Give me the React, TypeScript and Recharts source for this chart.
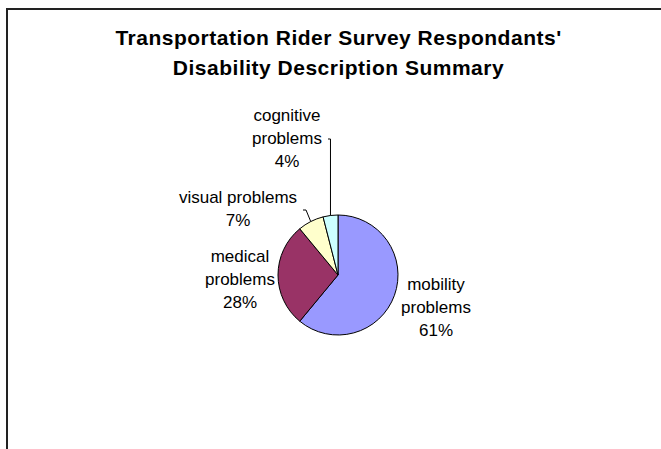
import { PieChart, Pie, Cell } from 'recharts';

const categories = ['mobility problems', 'medical problems', 'visual problems', 'cognitive problems'];
const shares = [61, 28, 7, 4];
const titleLines = ["Transportation Rider Survey Respondants'", 'Disability Description Summary'];

const COLORS = ['#9999FF', '#993366', '#FFFFCC', '#CCFFFF'];
const FONT = '"Liberation Sans", Arial, sans-serif';

// where Excel put each data label, relative to the pie centre
const LABEL_LAYOUT = [
  { dx: 98, dy: 15, wrap: true, leader: null },
  { dx: -98, dy: -13, wrap: true, leader: null },
  { dx: -100, dy: -72, wrap: false, leader: { dx: -32, dy: -65, endDx: -35 } },
  { dx: -51, dy: -154, wrap: true, leader: { dx: null, dy: -136, endDx: -10 } },
];

const data = categories.map((name, i) => ({ name, value: shares[i] }));

const RADIAN = Math.PI / 180;

function renderLabel(props: any) {
  const { cx, cy, midAngle, outerRadius, percent, name, index } = props;
  const layout = LABEL_LAYOUT[index];
  const pct = `${Math.round(percent * 100)}%`;
  const words = String(name).split(' ');
  const lines = layout.wrap ? [...words, pct] : [name, pct];
  const x = cx + layout.dx;
  const y = cy + layout.dy;

  let leader = null;
  if (layout.leader) {
    const ex = cx + outerRadius * Math.cos(-midAngle * RADIAN);
    const ey = cy + outerRadius * Math.sin(-midAngle * RADIAN);
    const bx = layout.leader.dx === null ? ex : cx + layout.leader.dx;
    const by = cy + layout.leader.dy;
    const tx = cx + layout.leader.endDx;
    leader = (
      <polyline
        points={`${ex},${ey} ${bx},${by} ${tx},${by}`}
        fill="none"
        stroke="#000"
        strokeWidth={1}
      />
    );
  }

  return (
    <g>
      {leader}
      <text x={x} y={y} textAnchor="middle" fontFamily={FONT} fontSize={17} fill="#000">
        {lines.map((l, i) => (
          <tspan key={i} x={x} dy={i === 0 ? 0 : 23}>
            {l}
          </tspan>
        ))}
      </text>
    </g>
  );
}

export default function App() {
  return (
    <div style={{ position: 'absolute', left: 0, top: 0, width: 661, height: 449, background: '#fff' }}>
      <div
        style={{
          position: 'absolute',
          left: 6,
          top: 8,
          width: 700,
          height: 500,
          borderTop: '2px solid #222',
          borderLeft: '2px solid #222',
        }}
      />
      <PieChart
        width={661}
        height={449}
        margin={{ top: 0, right: 0, bottom: 0, left: 0 }}
        style={{ position: 'absolute', left: 0, top: 0 }}
      >
        <text x={338.5} y={45} textAnchor="middle" fontFamily={FONT} fontWeight="bold" fontSize={21} letterSpacing={0.5} fill="#000">
          {titleLines[0]}
        </text>
        <text x={338.5} y={75} textAnchor="middle" fontFamily={FONT} fontWeight="bold" fontSize={21} letterSpacing={0.5} fill="#000">
          {titleLines[1]}
        </text>
        <Pie
          data={data}
          dataKey="value"
          nameKey="name"
          cx={338}
          cy={275}
          outerRadius={60}
          startAngle={90}
          endAngle={-270}
          stroke="#000"
          strokeWidth={1}
          label={renderLabel}
          labelLine={false}
          isAnimationActive={false}
        >
          {data.map((entry, index) => (
            <Cell key={`cell-${index}`} fill={COLORS[index % COLORS.length]} />
          ))}
        </Pie>
      </PieChart>
    </div>
  );
}
